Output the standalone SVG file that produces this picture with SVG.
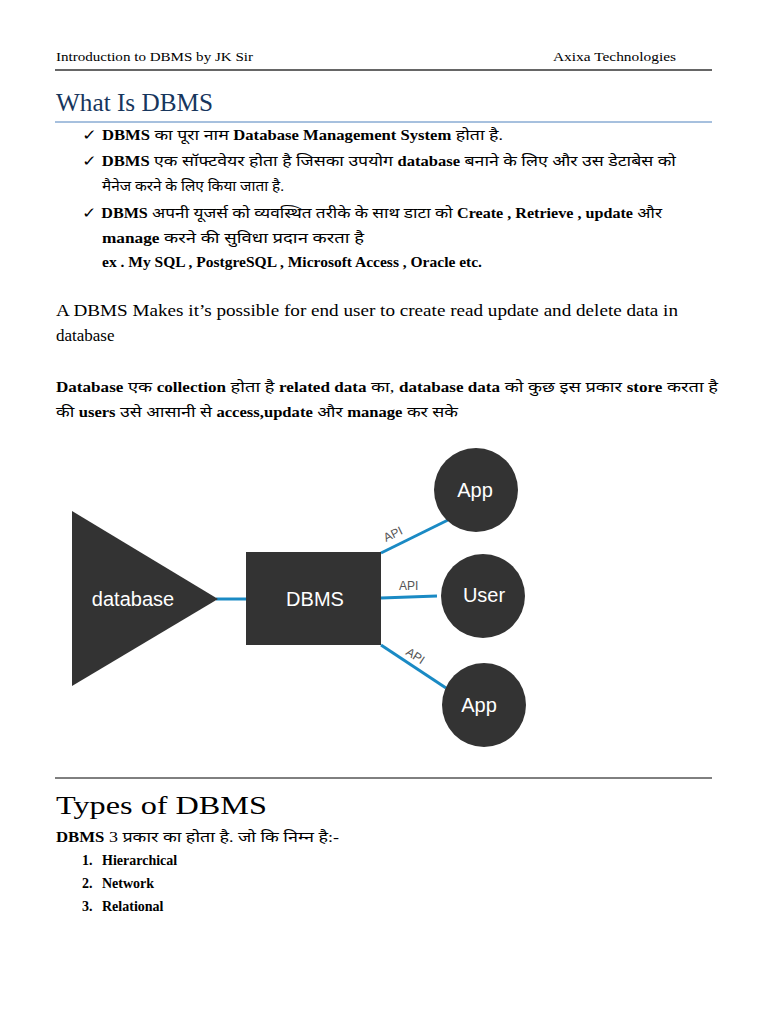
<svg xmlns="http://www.w3.org/2000/svg" width="768" height="1024" viewBox="0 0 768 1024">
<style>
.c{font-family:"Liberation Serif","Noto Sans",serif;font-size:15px;fill:#000}
.b{font-weight:bold;font-size:14px}
.h{font-family:"Liberation Serif",serif;font-size:26px;fill:#17365d}
.n{fill:#333}
.w{font-family:"Liberation Sans",Arial,sans-serif;fill:#fff;font-size:20px;text-anchor:middle}
.api{font-family:"Liberation Sans",Arial,sans-serif;fill:#555;font-size:12px}
.l{stroke:#1a8ac4;stroke-width:3;fill:none}
</style>
<rect width="768" height="1024" fill="#fff"/>
<text x="56" y="61" class="c" style="font-size:13px" textLength="197" lengthAdjust="spacingAndGlyphs">Introduction to DBMS by JK Sir</text>
<text x="553" y="61" class="c" style="font-size:13px" textLength="123" lengthAdjust="spacingAndGlyphs">Axixa Technologies</text>
<line x1="55" y1="70" x2="712" y2="70" stroke="#333" stroke-width="1.5"/>
<text x="56" y="111" class="h" textLength="157" lengthAdjust="spacingAndGlyphs">What Is DBMS</text>
<line x1="55" y1="122" x2="712" y2="122" stroke="#4f81bd"/>
<g class="c">
<text x="82" y="140" textLength="421" lengthAdjust="spacingAndGlyphs">✓ <tspan class="b">DBMS</tspan> का पूरा नाम <tspan class="b">Database Management System</tspan> होता है.</text>
<text x="82" y="166" textLength="594" lengthAdjust="spacingAndGlyphs">✓ <tspan class="b">DBMS</tspan> एक सॉफ्टवेयर होता है जिसका उपयोग <tspan class="b">database</tspan> बनाने के लिए और उस डेटाबेस को</text>
<text x="102" y="191" textLength="182" lengthAdjust="spacingAndGlyphs">मैनेज करने के लिए किया जाता है.</text>
<text x="82" y="218" textLength="580" lengthAdjust="spacingAndGlyphs">✓ <tspan class="b">DBMS</tspan> अपनी यूजर्स को व्यवस्थित तरीके के साथ डाटा को <tspan class="b">Create , Retrieve , update</tspan> और</text>
<text x="102" y="243" textLength="262" lengthAdjust="spacingAndGlyphs"><tspan class="b">manage</tspan> करने की सुविधा प्रदान करता है</text>
<text x="102" y="267" class="b" textLength="380" lengthAdjust="spacingAndGlyphs">ex . My SQL , PostgreSQL , Microsoft Access , Oracle etc.</text>
<text x="56" y="316" style="font-size:17px" textLength="622" lengthAdjust="spacingAndGlyphs">A DBMS Makes it’s possible for end user to create read update and delete data in</text>
<text x="56" y="341" style="font-size:17px">database</text>
<text x="56" y="392" textLength="662" lengthAdjust="spacingAndGlyphs"><tspan class="b">Database</tspan> एक <tspan class="b">collection</tspan> होता है <tspan class="b">related data</tspan> का, <tspan class="b">database data</tspan> को कुछ इस प्रकार <tspan class="b">store</tspan> करता है</text>
<text x="56" y="417" textLength="402" lengthAdjust="spacingAndGlyphs">की <tspan class="b">users</tspan> उसे आसानी से <tspan class="b">access,update</tspan> और <tspan class="b">manage</tspan> कर सके</text>
</g>
<g id="connectors">
<line class="l" x1="216" y1="599" x2="246" y2="599"/>
<line class="l" x1="381" y1="553" x2="448" y2="520"/>
<line class="l" x1="381" y1="598" x2="437" y2="596"/>
<line class="l" x1="381" y1="645" x2="446" y2="688"/>
<text class="api" transform="translate(386,542) rotate(-26)">API</text>
<text class="api" x="399" y="590">API</text>
<text class="api" transform="translate(405,654) rotate(33)">API</text>
</g>
<g id="database"><polygon class="n" points="72,511 72,686 218,599"/><text class="w" x="133" y="606">database</text></g>
<g id="dbms"><rect class="n" x="246" y="552" width="135" height="93"/><text class="w" x="315" y="606">DBMS</text></g>
<g id="app1"><circle class="n" cx="476" cy="490" r="42"/><text class="w" x="475" y="497">App</text></g>
<g id="user"><circle class="n" cx="483" cy="596" r="42"/><text class="w" x="484" y="602">User</text></g>
<g id="app2"><circle class="n" cx="484" cy="705" r="42"/><text class="w" x="479" y="712">App</text></g>
<line x1="55" y1="778" x2="712" y2="778" stroke="#000"/>
<text x="56" y="814" class="h" style="fill:#000" textLength="211" lengthAdjust="spacingAndGlyphs">Types of DBMS</text>
<g class="c">
<text x="56" y="842" textLength="283" lengthAdjust="spacingAndGlyphs"><tspan class="b">DBMS</tspan> 3 प्रकार का होता है. जो कि निम्न है:-</text>
<text x="82" y="865" class="b">1.</text><text x="102" y="865" class="b">Hierarchical</text>
<text x="82" y="888" class="b">2.</text><text x="102" y="888" class="b">Network</text>
<text x="82" y="911" class="b">3.</text><text x="102" y="911" class="b">Relational</text>
</g>
</svg>
